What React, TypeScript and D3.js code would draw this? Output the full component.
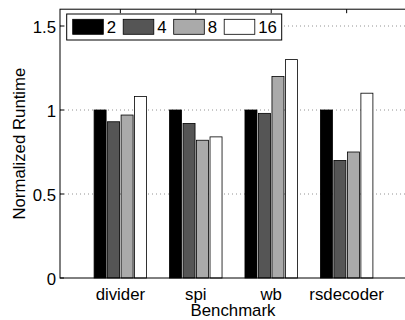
import React from 'react';
import * as d3 from 'd3';

// chart data
const benchmarks = ['divider', 'spi', 'wb', 'rsdecoder'];
const seriesNames = ['2', '4', '8', '16'];
const seriesColors = ['#000000', '#555555', '#aaaaaa', '#ffffff'];
const values2 = [1, 1, 1, 1];
const values4 = [0.93, 0.92, 0.98, 0.7];
const values8 = [0.97, 0.82, 1.2, 0.75];
const values16 = [1.08, 0.84, 1.3, 1.1];
const yTicks = [0, 0.5, 1, 1.5];
const gridTicks = [0.5, 1, 1.5];

const seriesValues = [values2, values4, values8, values16];

const W = 405;
const H = 320;
const font = '"Liberation Sans", Arial, Helvetica, sans-serif';
const fs = 16.8;

const App: React.FC = () => {
  const left = 60;
  const right = 407;
  const top = 9.2;
  const bottom = 278;

  // Matlab-ish x limits: categories at 1..4, xlim [0.2, 4.8]
  const x = d3.scaleLinear().domain([0.2, 4.8]).range([left, right]);
  const y = d3.scaleLinear().domain([0, 1.6]).range([bottom, top]);
  const unit = x(2) - x(1);
  const inner = d3
    .scaleBand<string>()
    .domain(seriesNames)
    .range([-0.348 * unit, 0.348 * unit])
    .paddingInner(0.11)
    .paddingOuter(0);

  const legendX = 66.7;
  const legendY = 14;

  return (
    <svg width={W} height={H} style={{ position: 'absolute', left: 0, top: 0, background: '#fff' }}>
      <rect x={0} y={0} width={W} height={H} fill="#fff" />
      {/* grid */}
      {gridTicks.map(t => (
        <line
          key={'g' + t}
          x1={left}
          x2={right}
          y1={y(t)}
          y2={y(t)}
          stroke="#777"
          strokeWidth={0.8}
          strokeDasharray="1 3"
        />
      ))}
      {/* bars */}
      {seriesValues.map((vals, si) =>
        vals.map((v, ci) => (
          <rect
            key={`b${si}-${ci}`}
            x={x(ci + 1) + (inner(seriesNames[si]) as number)}
            y={y(v)}
            width={inner.bandwidth()}
            height={y(0) - y(v)}
            fill={seriesColors[si]}
            stroke="#000"
            strokeWidth={0.8}
          />
        ))
      )}
      {/* box */}
      <rect x={left} y={top} width={right - left} height={bottom - top} fill="none" stroke="#000" strokeWidth={1} />
      {/* y ticks */}
      {yTicks.map(t => (
        <g key={'y' + t}>
          <line x1={left} x2={left + 4} y1={y(t)} y2={y(t)} stroke="#000" strokeWidth={1} />
          <text
            x={left - 4}
            y={y(t)}
            dy="0.4em"
            textAnchor="end"
            fontFamily={font}
            fontSize={fs}
            fill="#000"
          >
            {t}
          </text>
        </g>
      ))}
      {/* x ticks */}
      {benchmarks.map((b, i) => (
        <g key={b}>
          <line x1={x(i + 1)} x2={x(i + 1)} y1={top} y2={top + 4} stroke="#000" strokeWidth={1} />
          <text x={x(i + 1)} y={299.5} textAnchor="middle" fontFamily={font} fontSize={fs} fill="#000">
            {b}
          </text>
        </g>
      ))}
      {/* axis labels */}
      <text x={(left + right) / 2 - 0.5} y={315.5} textAnchor="middle" fontFamily={font} fontSize={fs} fill="#000">
        Benchmark
      </text>
      <text
        transform={`translate(25, ${(top + bottom) / 2}) rotate(-90)`}
        textAnchor="middle"
        fontFamily={font}
        fontSize={fs}
        fill="#000"
      >
        Normalized Runtime
      </text>
      {/* legend */}
      <rect x={legendX} y={legendY} width={215} height={26} fill="#fff" stroke="#000" strokeWidth={1} />
      {seriesNames.map((s, i) => {
        const sx = legendX + 6 + i * 50.5;
        return (
          <g key={'l' + s}>
            <rect x={sx} y={legendY + 5.3} width={30.6} height={15} fill={seriesColors[i]} stroke="#000" strokeWidth={0.8} />
            <text x={sx + 34} y={legendY + 13} dy="0.38em" fontFamily={font} fontSize={fs} fill="#000">
              {s}
            </text>
          </g>
        );
      })}
    </svg>
  );
};

export default App;
